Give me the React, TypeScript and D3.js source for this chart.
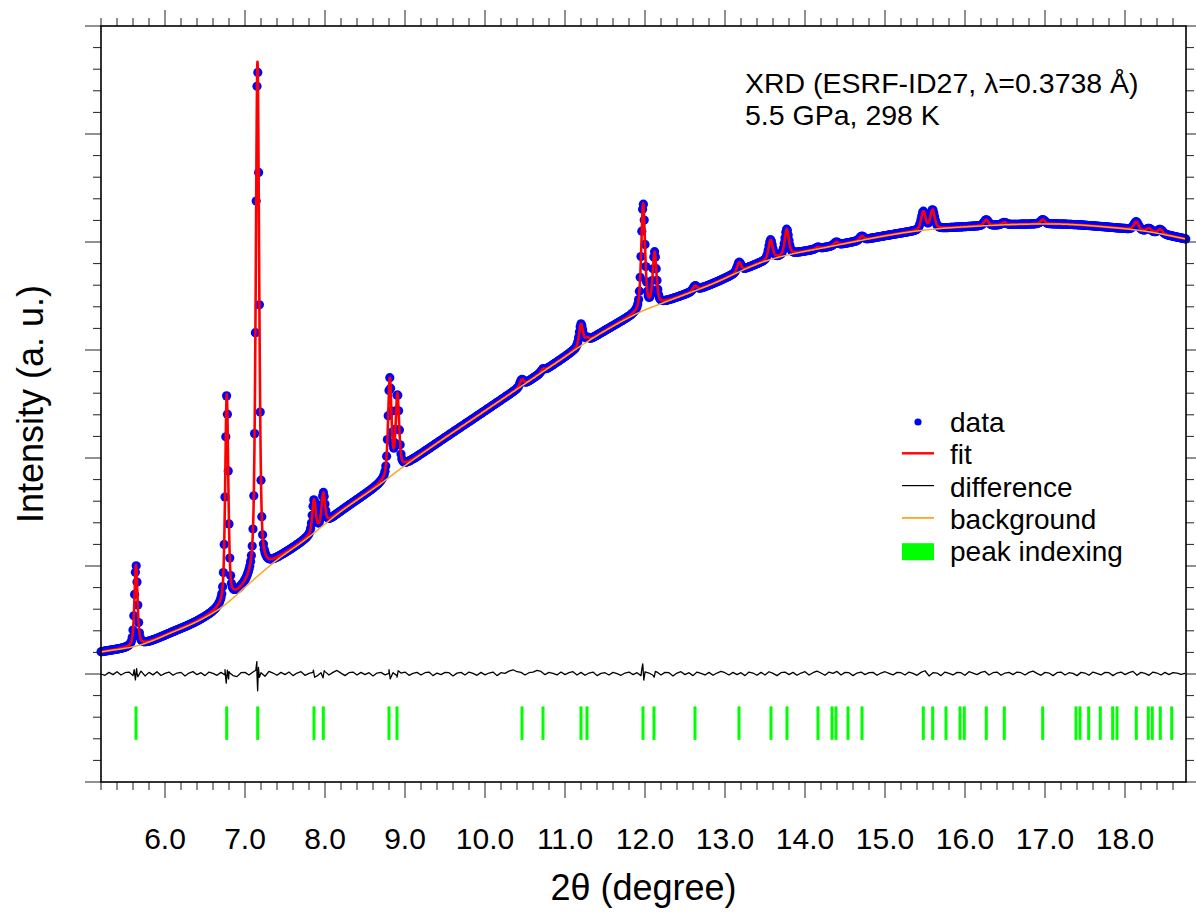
import React from "react";
import * as d3 from "d3";

// ---- background (2θ nodes, intensity) ----
const bgTheta = [5.2, 5.69, 6.1, 6.44, 6.73, 7.06, 7.4, 7.75, 8.19, 8.69, 8.94, 9.44, 9.94, 10.44, 10.94, 11.35, 11.94, 12.19, 12.81, 13.51, 14.35, 15.4, 16.44, 17.06, 17.9, 18.31, 18.7625];
const bgLevel = [204, 269, 389, 500, 630, 843, 1056, 1241, 1500, 1759, 1898, 2157, 2407, 2657, 2907, 3111, 3352, 3426, 3602, 3824, 3963, 4102, 4157, 4167, 4130, 4093, 4028];

// ---- refined peaks: position (deg), height above background, FWHM (deg) ----
const peakPos = [5.6375, 6.772, 7.156, 7.8625, 7.979, 8.81, 8.905, 10.46, 10.725, 11.2, 11.275, 11.977, 12.12, 12.625, 13.177, 13.57, 13.772, 14.16, 14.39, 14.71, 15.479, 15.594, 16.265, 16.49, 16.972, 18.14, 18.3, 18.44];
const peakHeight = [750, 1925, 4760, 300, 295, 895, 696, 60, 25, 200, 30, 985, 486, 45, 88, 180, 240, 15, 30, 38, 170, 176, 55, 22, 40, 76, 30, 40];
const peakFwhm = [0.045, 0.045, 0.05, 0.05, 0.05, 0.05, 0.05, 0.055, 0.055, 0.055, 0.055, 0.055, 0.055, 0.06, 0.06, 0.06, 0.06, 0.06, 0.06, 0.06, 0.065, 0.065, 0.065, 0.065, 0.065, 0.07, 0.07, 0.07];

// ---- reflection positions (peak indexing) ----
const reflections = [5.6375, 6.771, 7.159, 7.8625, 7.979, 8.8, 8.9, 10.4625, 10.725, 11.2, 11.275, 11.975, 12.1125, 12.625, 13.175, 13.575, 13.775, 14.1625, 14.3375, 14.3875, 14.5375, 14.7125, 15.479, 15.596, 15.7625, 15.9375, 15.991, 16.266, 16.491, 16.971, 17.3875, 17.4375, 17.546, 17.691, 17.846, 17.9, 18.141, 18.291, 18.341, 18.441, 18.584];

// ---- difference curve: values every 0.05 deg from 5.20, plus sharp features at peaks ----
const diffStart = 5.2;
const diffStep = 0.05;
const diffValues = [
  0, -12, 15, -6, 21, -9, 12, 18, -15, 9, 27, -18, 15, -8, 21, -14, 6, 18, -12, 9,
  15, -18, 9, 22, -6, 12, -15, 18, 6, -12, 15, -9, 21, -15, -24, 12, 15, -9, 18, -6,
  12, -21, 24, 9, -12, 15, -6, 18, -15, 9, 21, -12, 6, 15, -18, 12, 22, -9, 15, 33,
  8, -15, 12, 18, -9, 15, -6, 12, -18, 9, 15, -8, 6, 12, -15, 9, 18, -12, 6, 15,
  -9, 12, 18, -15, 9, -6, 15, 12, -18, 8, 15, -9, 18, 6, -12, 15, -8, 9, 18, -15,
  12, 6, 27, 39, 21, 15, -9, 12, 18, 33, 24, -6, 15, 6, -9, 18, -6, 12, 21, -9,
  15, -12, 9, 18, -15, 6, 12, -9, 15, 3, -12, 9, 18, -6, 12, -15, 15, 9, -12, 18,
  -9, 15, 12, -18, 9, 21, -6, 12, -15, 18, 6, -9, 15, -12, 9, 24, 12, -9, 15, -6,
  12, -15, 18, 9, -12, 15, -9, 21, 6, -15, 12, 18, -6, 15, -12, 9, 21, -9, 12, 27,
  9, -12, 18, 6, 24, -9, 15, 12, -15, 9, 18, -6, 12, 15, -12, 9, 21, 6, -9, 15,
  12, -9, 18, 6, -12, 15, 30, -18, 12, 9, -15, 18, 6, -9, 15, 12, -12, 21, 9, -6,
  15, 24, -9, 12, 18, -12, 9, 15, -6, 18, 12, -9, 15, 27, 6, -12, 15, 9, -15, 12,
  18, -9, 12, 6, -15, 15, 9, -12, 18, 6, -9, 15, 12, -15, 9, 18, -6, 12, 24, -12,
  15, 6, -12, 18, 9, -9, 15, -6, 12, 9, -3, 6,
];
const diffSpikeTheta = [5.615, 5.63, 5.645, 5.66, 6.75, 6.765, 6.78, 6.795, 6.81, 7.135, 7.148, 7.158, 7.168, 7.18, 7.855, 7.87, 7.975, 7.99, 8.8, 8.815, 8.9, 8.915, 11.96, 11.972, 11.985, 12.0, 12.115, 12.13];
const diffSpikeValue = [40, -55, 50, -25, 40, -85, 35, -45, 10, 35, 115, -155, 60, -30, 35, -30, -35, 30, 40, -45, -30, 30, 45, 93, -56, 20, -30, 25];

const xMajor = [6, 7, 8, 9, 10, 11, 12, 13, 14, 15, 16, 17, 18];
const xTickLabels = ["6.0", "7.0", "8.0", "9.0", "10.0", "11.0", "12.0", "13.0", "14.0", "15.0", "16.0", "17.0", "18.0"];

const legendItems = ["data", "fit", "difference", "background", "peak indexing"];

const FONT = "'Liberation Sans', Arial, Helvetica, sans-serif";

function monotoneInterp(xs: number[], ys: number[]) {
  const n = xs.length;
  const d: number[] = [];
  const m: number[] = new Array(n).fill(0);
  for (let i = 0; i < n - 1; i++) d[i] = (ys[i + 1] - ys[i]) / (xs[i + 1] - xs[i]);
  m[0] = d[0];
  m[n - 1] = d[n - 2];
  for (let i = 1; i < n - 1; i++) m[i] = d[i - 1] * d[i] <= 0 ? 0 : (d[i - 1] + d[i]) / 2;
  for (let i = 0; i < n - 1; i++) {
    if (d[i] === 0) { m[i] = 0; m[i + 1] = 0; continue; }
    const a = m[i] / d[i], b = m[i + 1] / d[i];
    const s = a * a + b * b;
    if (s > 9) { const t = 3 / Math.sqrt(s); m[i] = t * a * d[i]; m[i + 1] = t * b * d[i]; }
  }
  return (x: number) => {
    let i = d3.bisectRight(xs, x) - 1;
    i = Math.max(0, Math.min(n - 2, i));
    const h = xs[i + 1] - xs[i];
    const t = (x - xs[i]) / h;
    const t2 = t * t, t3 = t2 * t;
    return (2 * t3 - 3 * t2 + 1) * ys[i] + (t3 - 2 * t2 + t) * h * m[i] + (-2 * t3 + 3 * t2) * ys[i + 1] + (t3 - t2) * h * m[i + 1];
  };
}

const background = monotoneInterp(bgTheta, bgLevel);

// pseudo-Voigt, equal Lorentzian / Gaussian mix
function pv(dx: number, w: number) {
  const u = dx / w;
  const L = 1 / (1 + 4 * u * u);
  const G = Math.exp(-4 * Math.LN2 * u * u);
  return 0.5 * L + 0.5 * G;
}

function profile(t: number) {
  let v = background(t);
  for (let i = 0; i < peakPos.length; i++) {
    const dx = t - peakPos[i];
    if (Math.abs(dx) < 2) v += peakHeight[i] * pv(dx, peakFwhm[i]);
  }
  return v;
}

const X0 = 5.2, X1 = 18.7625;
const PL = 101, PR = 1186, PT = 26, PB = 782;

export default function App() {
  const x = d3.scaleLinear().domain([X0, X1]).range([PL, PR]);
  const y = d3.scaleLinear().domain([-1000, 6000]).range([PB, PT]);

  const dataGrid = d3.range(0, Math.floor((X1 - X0) / 0.01) + 1).map((k) => X0 + k * 0.01);
  const fineGrid = d3.range(0, Math.floor((X1 - X0) / 0.002) + 1).map((k) => X0 + k * 0.002);

  const line = d3.line<[number, number]>().x((d) => x(d[0])).y((d) => y(d[1]));

  const fitPath = line(fineGrid.map((t) => [t, profile(t)] as [number, number])) || "";
  const bgPath = line(fineGrid.filter((_, i) => i % 5 === 0).map((t) => [t, background(t)] as [number, number])) || "";

  const diffPts: [number, number][] = diffValues.map((v, i) => [diffStart + i * diffStep, v] as [number, number]);
  diffSpikeTheta.forEach((t, i) => diffPts.push([t, diffSpikeValue[i]]));
  diffPts.sort((a, b) => a[0] - b[0]);
  const diffPath = line(diffPts.filter((p) => p[0] <= X1)) || "";

  const xMinor = d3.range(26, 94).map((k) => k * 0.2).filter((v) => Math.abs(v - Math.round(v)) > 1e-6);
  const yMajor = d3.range(-1000, 6001, 1000);
  const yMinor = d3.range(-1000, 6001, 200).filter((v) => v % 1000 !== 0);

  const tickColor = "#222";
  const MAJ = 16, MIN = 8;

  const legX = 902, legTextX = 950, legY0 = 432, legDy = 32.3;

  return (
    <svg width={1196} height={920} style={{ position: "absolute", left: 0, top: 0, background: "#fff" }} fontFamily={FONT}>
      <rect x={0} y={0} width={1196} height={920} fill="#fff" />
      {/* data points */}
      <g fill="#0000ff">
        {dataGrid.map((t, i) => (
          <circle key={i} cx={x(t)} cy={y(profile(t))} r={4.6} />
        ))}
      </g>
      <path d={fitPath} fill="none" stroke="#ff0000" strokeWidth={2.6} strokeLinejoin="round" />
      <path d={bgPath} fill="none" stroke="#ffa620" strokeWidth={1.5} />
      <path d={diffPath} fill="none" stroke="#000" strokeWidth={1.3} strokeLinejoin="round" />
      {/* peak indexing */}
      <g fill="#00ff00">
        {reflections.map((t, i) => (
          <rect key={i} x={x(t) - 1.5} y={y(-300)} width={3} height={y(-610) - y(-300)} />
        ))}
      </g>

      {/* ticks */}
      <g stroke={tickColor} strokeWidth={1}>
        {xMajor.map((t) => (
          <g key={"xM" + t}>
            <line x1={x(t)} x2={x(t)} y1={PB} y2={PB + MAJ} />
            <line x1={x(t)} x2={x(t)} y1={PT} y2={PT - MAJ} />
          </g>
        ))}
        {xMinor.map((t) => (
          <g key={"xm" + t}>
            <line x1={x(t)} x2={x(t)} y1={PB} y2={PB + MIN} />
            <line x1={x(t)} x2={x(t)} y1={PT} y2={PT - MIN} />
          </g>
        ))}
        {yMajor.map((v) => (
          <g key={"yM" + v}>
            <line x1={PL} x2={PL - MAJ} y1={y(v)} y2={y(v)} />
            <line x1={PR} x2={PR + MAJ} y1={y(v)} y2={y(v)} />
          </g>
        ))}
        {yMinor.map((v) => (
          <g key={"ym" + v}>
            <line x1={PL} x2={PL - MIN} y1={y(v)} y2={y(v)} />
            <line x1={PR} x2={PR + MIN} y1={y(v)} y2={y(v)} />
          </g>
        ))}
      </g>
      <rect x={PL} y={PT} width={PR - PL} height={PB - PT} fill="none" stroke="#000" strokeWidth={1.6} />

      {/* tick labels */}
      <g fontSize={30} textAnchor="middle" fill="#000">
        {xMajor.map((t, i) => (
          <text key={t} x={x(t)} y={849}>{xTickLabels[i]}</text>
        ))}
      </g>

      {/* axis titles */}
      <text x={(PL + PR) / 2} y={900} fontSize={36} textAnchor="middle">2θ (degree)</text>
      <text transform={`translate(43, ${(PT + PB) / 2}) rotate(-90)`} fontSize={36} textAnchor="middle">Intensity (a. u.)</text>

      {/* annotation */}
      <text x={745} y={93} fontSize={28.5}>XRD (ESRF-ID27, λ=0.3738 Å)</text>
      <text x={745} y={125} fontSize={28.5}>5.5 GPa, 298 K</text>

      {/* legend */}
      <g fontSize={28}>
        <circle cx={918} cy={legY0 - 10} r={3.6} fill="#0000ff" />
        <line x1={legX} x2={legX + 32} y1={legY0 + legDy - 11} y2={legY0 + legDy - 11} stroke="#ff0000" strokeWidth={2.4} />
        <line x1={legX} x2={legX + 32} y1={legY0 + 2 * legDy - 11} y2={legY0 + 2 * legDy - 11} stroke="#000" strokeWidth={1.2} />
        <line x1={legX} x2={legX + 32} y1={legY0 + 3 * legDy - 11} y2={legY0 + 3 * legDy - 11} stroke="#ffa620" strokeWidth={1.8} />
        <rect x={legX} y={legY0 + 4 * legDy - 18} width={32} height={17} fill="#00ff00" />
        {legendItems.map((s, i) => (
          <text key={s} x={legTextX} y={legY0 + i * legDy}>{s}</text>
        ))}
      </g>
    </svg>
  );
}
